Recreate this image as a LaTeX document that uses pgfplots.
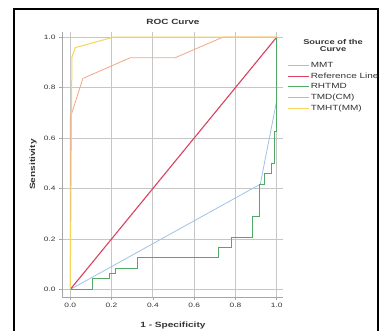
\documentclass[border=0pt]{standalone}
\usepackage{pgfplots}
\pgfplotsset{compat=1.18}
\usepackage{fontspec}
\setmainfont{Liberation Sans}[FakeStretch=1.33]
\definecolor{cMMT}{HTML}{9DC3E6}
\definecolor{cRef}{HTML}{D9415F}
\definecolor{cRH}{HTML}{52A866}
\definecolor{cTMD}{HTML}{F4A582}
\definecolor{cTMHT}{HTML}{F5D55A}
\definecolor{txt}{HTML}{333333}
\begin{document}
\begin{tikzpicture}[x=1pt,y=1pt]
\useasboundingbox (0,0) rectangle (379,330);
\draw[line width=1.5pt] (14,-5) -- (14,321) -- (378,321) -- (378,-5);
\begin{axis}[at={(62pt,33pt)}, anchor=south west, scale only axis,
  width=221pt, height=265pt,
  xmin=-0.04, xmax=1.03, ymin=-0.03, ymax=1.02,
  axis x line*=bottom, axis y line*=left,
  axis line style={gray!70, line width=0.7pt},
  every tick/.style={gray!70, line width=0.7pt},
  tick align=outside, major tick length=3pt,
  xtick={0,0.2,0.4,0.6,0.8,1.0}, ytick={0,0.2,0.4,0.6,0.8,1.0},
  grid=major, grid style={gray!45, line width=0.8pt},
  tick label style={font=\fontsize{6.3}{7}\selectfont, text=txt},
  /pgf/number format/.cd, fixed, fixed zerofill, precision=1, assume math mode=true,
  /pgfplots/.cd,
  xlabel={\textbf{1 - Specificity}},
  ylabel={\textbf{Sensitivity}},
  label style={font=\fontsize{7.6}{8}\selectfont, text=txt},
  xlabel style={at={(axis description cs:0.502,-0.106)}, anchor=center},
  ylabel style={at={(axis description cs:-0.131,0.5)}, anchor=center},
  every axis title shift=0pt,
  title={\textbf{ROC Curve}},
  title style={font=\fontsize{7.5}{8}\selectfont, text=txt, at={(axis description cs:0.502,1.039)}, anchor=center},
  legend style={at={(axis description cs:1.018,0.887)}, anchor=north west, draw=none, fill=none,
    font=\fontsize{7.5}{8}\selectfont, text=txt, row sep=3.6pt, inner sep=0pt,
    nodes={inner ysep=0pt, inner xsep=1.5pt, text height=5.5pt, text depth=1.5pt},
    /tikz/every even column/.append style={column sep=0pt}},
  legend cell align=left,
  legend image code/.code={\draw[#1] (0pt,0pt) -- (21pt,0pt);},
]
\addplot[cMMT, line width=0.8pt] coordinates {(0,0) (0.92,0.417) (1,0.75) (1,1)};
\addlegendentry{MMT}
\addplot[cRef, line width=1.1pt] coordinates {(0,0) (1,1)};
\addlegendentry{Reference Line}
\addplot[cRH, line width=0.8pt] coordinates {
 (0,0) (0.105,0) (0.105,0.042) (0.19,0.042) (0.19,0.063) (0.22,0.063) (0.22,0.083)
 (0.30,0.083) (0.326,0.083) (0.326,0.125) (0.718,0.125) (0.718,0.167) (0.78,0.167)
 (0.78,0.208) (0.88,0.208) (0.88,0.29) (0.916,0.29) (0.916,0.417) (0.94,0.417)
 (0.94,0.458) (0.976,0.458) (0.976,0.50) (0.99,0.50) (0.99,0.625) (1,0.625) (1,1)};
\addlegendentry{RHTMD}
\addplot[cTMD, line width=0.8pt] coordinates {(0,0) (0,0.68) (0.061,0.836) (0.29,0.918) (0.508,0.918) (0.74,1) (1,1)};
\addlegendentry{TMD(CM)}
\addplot[cTMHT, line width=1.0pt] coordinates {(0,0) (0.008,0.92) (0.024,0.958) (0.21,1) (1,1)};
\addlegendentry{TMHT(MM)}
\end{axis}
\node[font=\bfseries\fontsize{7}{7.5}\selectfont, text=txt, align=center] at (333,284.5) {Source of the\\Curve};
\end{tikzpicture}
\end{document}
